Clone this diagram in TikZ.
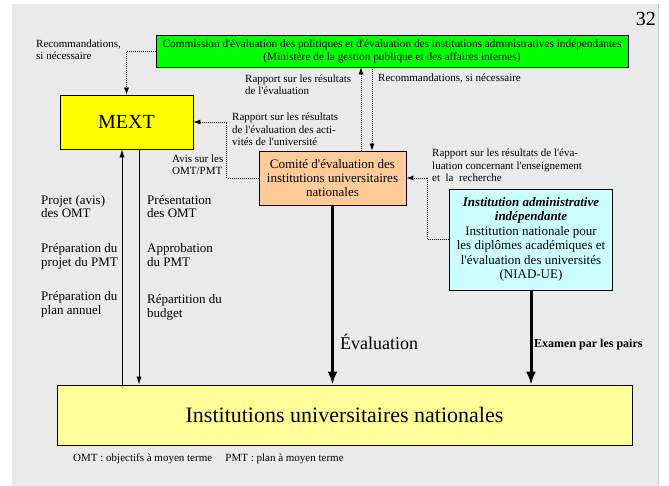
\documentclass[tikz,border=0pt]{standalone}
\usepackage{fontspec}
\setmainfont{Liberation Serif}[Ligatures=TeXOff]
\usetikzlibrary{arrows.meta}
\definecolor{panel}{RGB}{234,234,234}
\definecolor{greenbox}{RGB}{0,255,0}
\definecolor{mextyellow}{RGB}{255,255,0}
\definecolor{orangebox}{RGB}{255,204,153}
\definecolor{cyanbox}{RGB}{204,255,255}
\definecolor{instyellow}{RGB}{255,255,153}
\tikzset{
 box/.style={draw=black,line width=0.8pt,inner sep=0pt,align=center},
 lbl/.style={inner sep=0pt,anchor=base west,align=left,font=\fontsize{11}{12.5}\selectfont},
 mlbl/.style={inner sep=0pt,anchor=base west,align=left,font=\fontsize{13}{13.5}\selectfont},
 dotarrow/.style={line width=0.7pt,dash pattern=on 1pt off 1pt,-{Latex[length=7pt,width=5pt]}},
 thinarrow/.style={line width=0.7pt,-{Latex[length=8pt,width=5pt]}},
 thickarrow/.style={line width=3pt,-{Latex[length=13pt,width=10pt]}},
}
\begin{document}
\begin{tikzpicture}[x=1pt,y=-1pt]
\useasboundingbox (0,0) rectangle (669,486);
\fill[white] (0,0) rectangle (669,486);
\fill[panel] (12,4) rectangle (658,486);
\draw[gray!40] (658,4) -- (658,486);

\node[anchor=base east,font=\fontsize{20}{20}\selectfont,inner sep=0pt] (pagenum) at (656,26) {32};

\node[box,fill=greenbox,minimum width=472pt,minimum height=32pt,font=\fontsize{11.3}{13}\selectfont] (green) at (392,51) {Commission d'évaluation des politiques et d'évaluation des institutions administratives indépendantes\\(Ministère de la gestion publique et des affaires internes)};
\node[box,fill=mextyellow,minimum width=133pt,minimum height=54pt,font=\fontsize{20}{22}\selectfont] (mext) at (126.5,122) {MEXT};
\node[box,fill=orangebox,minimum width=147pt,minimum height=54pt,font=\fontsize{13}{14}\selectfont] (comite) at (332.5,178) {Comité d'évaluation des\\institutions universitaires\\nationales};
\node[box,fill=cyanbox,minimum width=163pt,minimum height=101pt,font=\fontsize{13}{14.5}\selectfont] (niad) at (531,239.5) {\textit{\textbf{Institution administrative}}\\\textit{\textbf{indépendante}}\\Institution nationale pour\\les diplômes académiques et\\l'évaluation des universités\\(NIAD-UE)};
\node[box,fill=instyellow,minimum width=575pt,minimum height=60pt,font=\fontsize{22}{24}\selectfont] (inst) at (344.5,415) {Institutions universitaires nationales};

\node[lbl] (l1) at (36,60) {Recommandations,\\si nécessaire};
\node[lbl] (l2) at (245,95) {Rapport sur les résultats\\de l'évaluation};
\node[lbl] (l3) at (378,82) {Recommandations, si nécessaire};
\node[lbl] (l4) at (232,146) {Rapport sur les résultats\\de l'évaluation des acti-\\vités de l'université};
\node[lbl] (l5) at (172,175) {Avis sur les\\OMT/PMT};
\node[lbl] (l6) at (432,182) {Rapport sur les résultats de l'éva-\\luation concernant l'enseignement\\et\ \ la\ \ recherche};
\node[mlbl] (l7) at (41,218) {Projet (avis)\\des OMT};
\node[mlbl] (l8) at (41,266) {Préparation du\\projet du PMT};
\node[mlbl] (l9) at (41,314) {Préparation du\\plan annuel};
\node[mlbl] (r7) at (147,218) {Présentation\\des OMT};
\node[mlbl] (r8) at (147,266) {Approbation\\du PMT};
\node[mlbl] (r9) at (147,317) {Répartition du\\budget};
\node[anchor=base west,inner sep=0pt,font=\fontsize{18}{18}\selectfont] (evl) at (340,349) {Évaluation};
\node[anchor=base west,inner sep=0pt,font=\bfseries\fontsize{12}{12}\selectfont] (exam) at (534,347) {Examen par les pairs};
\node[anchor=base west,inner sep=0pt,font=\fontsize{11}{11}\selectfont] (foot) at (73,461) {OMT : objectifs à moyen terme\hspace{1.2em}PMT : plan à moyen terme};

\draw[dotarrow] (green.west) -| (mext.north);
\draw[dotarrow] ([xshift=28.5pt]comite.north) -- ([xshift=28.5pt]comite.north |- green.south);
\draw[dotarrow] ([xshift=39.5pt]comite.north |- green.south) -- ([xshift=39.5pt]comite.north);
\draw[dotarrow] (comite.west) -- ++(-32,0) |- (mext.east);
\draw[dotarrow] (niad.west) -- ++(-22,0) |- (comite.east);
\draw[thinarrow] ([xshift=-4.5pt]mext.south |- inst.north) -- ([xshift=-4.5pt]mext.south);
\draw[thinarrow] ([xshift=12.5pt]mext.south) -- ([xshift=12.5pt]mext.south |- inst.north);
\draw[thickarrow] (comite.south) -- (comite.south |- inst.north);
\draw[thickarrow] (niad.south) -- (niad.south |- inst.north);
\end{tikzpicture}
\end{document}
